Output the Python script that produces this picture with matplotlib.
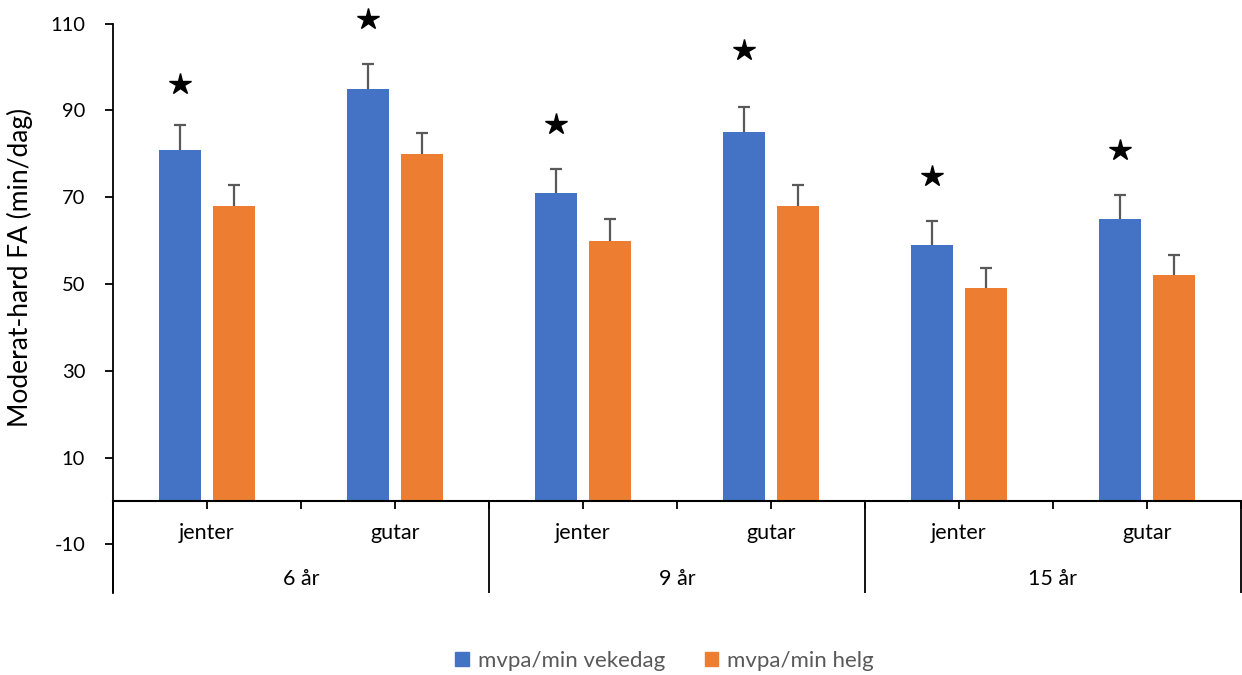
import matplotlib.pyplot as plt
from matplotlib.patches import Patch

# Data
groups = ['6 år', '9 år', '15 år']
sexes = ['jenter', 'gutar']
weekday = [81, 95, 71, 85, 59, 65]
weekend = [68, 80, 60, 68, 49, 52]
weekday_err = [5.6, 5.6, 5.6, 5.8, 5.6, 5.6]
weekend_err = [4.9, 4.9, 4.9, 4.9, 4.8, 4.8]
star_y = [96, 111, 87, 104, 75, 81]
series_names = ['mvpa/min vekedag', 'mvpa/min helg']

blue = '#4472C4'
orange = '#ED7D31'
err_col = '#595959'

plt.rcParams['font.family'] = ['Lato', 'DejaVu Sans']
plt.rcParams['axes.unicode_minus'] = False

fig = plt.figure(figsize=(12.42, 6.75), dpi=100)
ax = fig.add_axes([113 / 1242, 1 - 593 / 675, 1128 / 1242, (593 - 23.7) / 675])

ymin, ymax = -21.2, 110
n = len(weekday)
x = list(range(n))
off = 0.145
w = 0.223

ax.bar([i - off for i in x], weekday, w, color=blue, zorder=2)
ax.bar([i + off for i in x], weekend, w, color=orange, zorder=2)
# error bars sit behind the bars so only the upper half shows
ax.errorbar([i - off for i in x], weekday, yerr=weekday_err,
            fmt='none', ecolor=err_col, elinewidth=1.6, capsize=4.5,
            capthick=1.6, zorder=1)
ax.errorbar([i + off for i in x], weekend, yerr=weekend_err,
            fmt='none', ecolor=err_col, elinewidth=1.6, capsize=4.5,
            capthick=1.6, zorder=1)
ax.plot([i - off for i in x], star_y, linestyle='none', marker='*',
        markersize=16, color='black', clip_on=False, zorder=4)

ax.set_xlim(-0.5, n - 0.5)
ax.set_ylim(ymin, ymax)
ax.set_yticks([110, 90, 70, 50, 30, 10, -10])
ax.tick_params(axis='y', direction='out', length=6, width=1.3, labelsize=14.5,
               pad=14)

for s in ['top', 'right']:
    ax.spines[s].set_visible(False)
ax.spines['left'].set_linewidth(1.3)
ax.spines['bottom'].set_position(('data', 0))
ax.spines['bottom'].set_linewidth(1.5)
ax.spines['bottom'].set_zorder(3)
ax.set_xticks([i / 2 - 0.5 for i in range(2 * n + 1)])
ax.set_xticklabels([])
ax.tick_params(axis='x', direction='out', length=6, width=1.3)

# multi-level category labels
for i in x:
    ax.text(i, -7.3, sexes[i % 2], ha='center', va='center', fontsize=15.5)
for g, name in enumerate(groups):
    ax.text(2 * g + 0.5, -18.0, name, ha='center', va='center', fontsize=15.5)
ax.vlines([2 * g - 0.5 for g in range(len(groups) + 1)], ymin, 0,
          color='black', linewidth=1.3, clip_on=False)

ax.set_ylabel('Moderat-hard FA (min/dag)', fontsize=19)
ax.yaxis.set_label_coords(-0.071, 0.571)

handles = [Patch(color=blue), Patch(color=orange)]
fig.legend(handles, series_names, loc='center', bbox_to_anchor=(0.535, 0.021),
           ncol=2, frameon=False, fontsize=16, handlelength=0.6,
           handleheight=0.6, handletextpad=0.4, columnspacing=1.8,
           labelcolor='#595959')

fig.savefig('out.png', dpi=100)
